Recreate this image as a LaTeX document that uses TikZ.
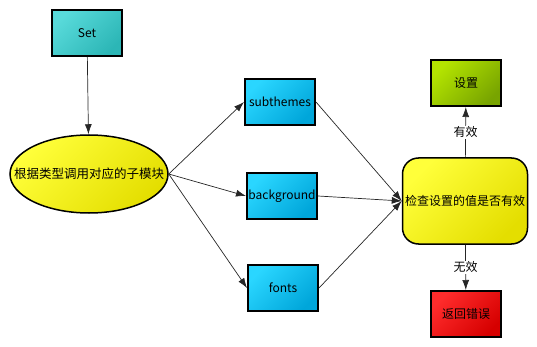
\documentclass[tikz,border=0pt]{standalone}
\usepackage{fontspec}
\setmainfont{Noto Sans CJK SC}
\usepackage{xcolor}
\usepackage{tikz}
\usetikzlibrary{arrows.meta,shapes.geometric}
\definecolor{tealA}{HTML}{58DADA}
\definecolor{tealB}{HTML}{2CB6B6}
\definecolor{cyanA}{HTML}{2AD6FF}
\definecolor{cyanB}{HTML}{00A6DA}
\definecolor{yelA}{HTML}{FFFF3A}
\definecolor{yelB}{HTML}{E4DE00}
\definecolor{grnA}{HTML}{B4E400}
\definecolor{grnB}{HTML}{78A400}
\definecolor{redA}{HTML}{FF2C2C}
\definecolor{redB}{HTML}{D60000}
\tikzset{
  box/.style={draw=black,line width=2pt,minimum width=70pt,minimum height=46pt,inner sep=0pt,
    top color=#1A,bottom color=#1B,shading angle=45,font=\fontsize{12}{14}\selectfont},
  oval/.style={ellipse,draw=black,line width=1.5pt,minimum width=158pt,minimum height=78pt,
    inner xsep=-20pt,inner ysep=0pt,
    top color=yelA,bottom color=yelB,shading angle=45,font=\fontsize{12.5}{14}\selectfont},
  chk/.style={draw=black,line width=1.5pt,rounded corners=16pt,minimum width=125pt,minimum height=86pt,inner sep=0pt,
    top color=yelA,bottom color=yelB,shading angle=45,font=\fontsize{12}{14}\selectfont},
  ar/.style={line width=0.7pt,draw=black!85,-{Latex[length=10pt,width=7pt]}},
  lab/.style={fill=white,inner sep=1pt,font=\fontsize{12}{14}\selectfont}
}

\begin{document}
\begin{tikzpicture}[x=1pt,y=-1pt]
\useasboundingbox (0,0) rectangle (537,347);
\node[box=teal] (set) at (87,33) {Set};
\node[oval] (disp) at (89,174) {根据类型调用对应的子模块};
\node[box=cyan] (sub) at (280,102) {subthemes};
\node[box=cyan] (bg) at (282,196) {background};
\node[box=cyan] (fnt) at (283,288) {fonts};
\node[chk] (chk) at (465,201) {检查设置的值是否有效};
\node[box=grn] (ok) at (466,83) {设置};
\node[box=red] (err) at (466,314) {返回错误};

\draw[ar] (set) -- (disp);
\draw[ar] (disp.east) -- (sub.west);
\draw[ar] (disp.east) -- (bg.west);
\draw[ar] (disp.east) -- (fnt.west);
\draw[ar] (sub.east) -- (chk.west);
\draw[ar] (bg.east) -- (chk.west);
\draw[ar] (fnt.east) -- (chk.west);
\draw[ar] (chk) -- node[lab] {有效} (ok);
\draw[ar] (chk) -- node[lab] {无效} (err);
\end{tikzpicture}
\end{document}
